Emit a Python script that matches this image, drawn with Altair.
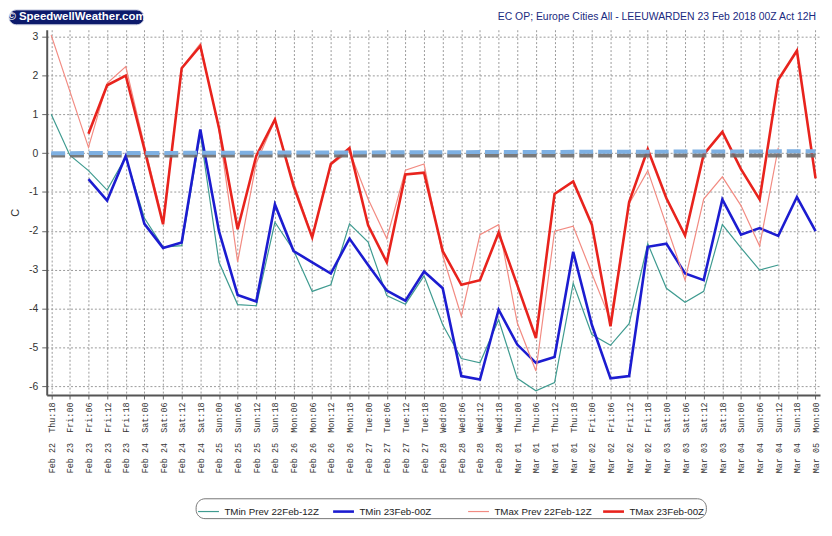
import altair as alt
import pandas as pd

categories = [
    "Feb 22  Thu:18",
    "Feb 23  Fri:00", "Feb 23  Fri:06", "Feb 23  Fri:12", "Feb 23  Fri:18",
    "Feb 24  Sat:00", "Feb 24  Sat:06", "Feb 24  Sat:12", "Feb 24  Sat:18",
    "Feb 25  Sun:00", "Feb 25  Sun:06", "Feb 25  Sun:12", "Feb 25  Sun:18",
    "Feb 26  Mon:00", "Feb 26  Mon:06", "Feb 26  Mon:12", "Feb 26  Mon:18",
    "Feb 27  Tue:00", "Feb 27  Tue:06", "Feb 27  Tue:12", "Feb 27  Tue:18",
    "Feb 28  Wed:00", "Feb 28  Wed:06", "Feb 28  Wed:12", "Feb 28  Wed:18",
    "Mar 01  Thu:00", "Mar 01  Thu:06", "Mar 01  Thu:12", "Mar 01  Thu:18",
    "Mar 02  Fri:00", "Mar 02  Fri:06", "Mar 02  Fri:12", "Mar 02  Fri:18",
    "Mar 03  Sat:00", "Mar 03  Sat:06", "Mar 03  Sat:12", "Mar 03  Sat:18",
    "Mar 04  Sun:00", "Mar 04  Sun:06", "Mar 04  Sun:12", "Mar 04  Sun:18",
    "Mar 05  Mon:00",
]
categories = [c.replace("  ", "\u00a0\u00a0") for c in categories]

tmin_prev = [1.0, -0.05, -0.45, -0.95, -0.1, -1.67, -2.42, -2.38, 0.5, -2.81,
             -3.9, -3.93, -1.78, -2.5, -3.56, -3.39, -1.82, -2.29, -3.67, -3.89,
             -3.16, -4.42, -5.29, -5.4, -4.29, -5.8, -6.12, -5.91, -3.35, -4.67,
             -4.95, -4.39, -2.33, -3.48, -3.84, -3.56, -1.84, -2.44, -3.01, -2.88,
             None, None]
tmin_now = [None, None, -0.67, -1.22, -0.07, -1.82, -2.44, -2.3, 0.61, -2.01,
            -3.65, -3.82, -1.32, -2.52, -2.81, -3.1, -2.2, -2.88, -3.54, -3.8,
            -3.05, -3.48, -5.74, -5.83, -4.03, -4.93, -5.4, -5.25, -2.54, -4.42,
            -5.8, -5.74, -2.41, -2.33, -3.1, -3.27, -1.19, -2.1, -1.93, -2.13,
            -1.13, -2.01]
tmax_prev = [3.04, 1.6, 0.15, 1.8, 2.23, 0.2, -1.75, 2.2, 2.82, 0.6,
             -2.8, -0.25, 0.85, -0.75, -2.15, -0.3, 0.05, -1.18, -2.2, -0.44,
             -0.28, -2.63, -4.2, -2.1, -1.84, -4.37, -5.61, -2.01, -1.88, -3.1,
             -4.3, -1.3, -0.45, -1.86, -3.27, -1.18, -0.61, -1.35, -2.39, 0.14,
             None, None]
tmax_now = [None, None, 0.5, 1.75, 2.0, 0.1, -1.83, 2.19, 2.76, 0.65,
            -1.96, -0.07, 0.87, -0.85, -2.17, -0.28, 0.13, -1.86, -2.81, -0.55,
            -0.5, -2.52, -3.39, -3.27, -2.05, -3.4, -4.76, -1.05, -0.73, -1.84,
            -4.46, -1.26, 0.1, -1.16, -2.12, -0.03, 0.55, -0.41, -1.19, 1.89,
            2.64, -0.65]

series_names = ["TMin Prev 22Feb-12Z", "TMin 23Feb-00Z",
                "TMax Prev 22Feb-12Z", "TMax 23Feb-00Z"]
series_colors = ["#3f9b90", "#1c1cd0", "#f28b82", "#e8231d"]
series_widths = [1.2, 2.6, 1.2, 2.6]

zero_grey = [-0.06, -0.06]
zero_blue = [0.0, 0.05]

title_text = "EC OP; Europe Cities All - LEEUWARDEN 23 Feb 2018 00Z Act 12H"
logo_text = "\u00a9 SpeedwellWeather.com"
y_ticks = [v / 2 for v in range(-12, 7)]

rows = []
for name, vals in zip(series_names, [tmin_prev, tmin_now, tmax_prev, tmax_now]):
    for i, v in enumerate(vals):
        if v is not None:
            rows.append({"cat": categories[i], "idx": i, "series": name, "value": v})
df = pd.DataFrame(rows)

zrows = []
for name, vals in [("grey", zero_grey), ("blue", zero_blue)]:
    zrows.append({"cat": categories[0], "line": name, "value": vals[0]})
    zrows.append({"cat": categories[-1], "line": name, "value": vals[1]})
zdf = pd.DataFrame(zrows)

x_enc = alt.X(
    "cat:O", sort=categories,
    scale=alt.Scale(type="point", padding=0.24),
    axis=alt.Axis(
        title=None, labelAngle=-90, labelAlign="right", labelBaseline="middle",
        labelFont="Liberation Mono", labelFontSize=8.5, labelColor="#333",
        labelPadding=3, tickSize=4, tickColor="#666",
        domainColor="#555", domainWidth=2,
        grid=True, gridColor="#9a9a9a", gridDash=[2, 2], gridWidth=1,
        labelOverlap=False,
    ),
)
y_scale = alt.Scale(domain=[-6.23, 3.18], nice=False, zero=False)
y_enc = alt.Y(
    "value:Q", scale=y_scale,
    axis=alt.Axis(
        title="C", titleFont="Liberation Sans", titleFontSize=11,
        titleFontWeight="normal", titleColor="#333", titleX=-31, titleY=184,
        titleBaseline="middle", titleAlign="center", titleAngle=270,
        values=y_ticks, labelExpr="datum.value + ''",
        labelFont="Liberation Sans", labelFontSize=10.5, labelColor="#333",
        labelPadding=4, tickSize=5, tickColor="#666",
        domainColor="#555", domainWidth=2,
        grid=True, gridColor="#9a9a9a", gridDash=[2, 2], gridWidth=1,
    ),
)

legend_cfg = dict(
    title=None, orient="none", legendX=150, legendY=472,
    direction="horizontal", columns=4, symbolType="stroke",
    symbolSize=441, labelFont="Liberation Sans", labelFontSize=9.8,
    labelColor="#222", strokeColor="#777", cornerRadius=9,
    padding=1, fillColor="white", gridAlign="all", columnPadding=5,
    labelLimit=200, labelOffset=4,
)

lines = alt.Chart(df).mark_line(interpolate="linear").encode(
    x=x_enc,
    y=y_enc,
    color=alt.Color(
        "series:N",
        scale=alt.Scale(domain=series_names, range=series_colors),
        legend=alt.Legend(**legend_cfg),
    ),
    strokeWidth=alt.StrokeWidth(
        "series:N",
        scale=alt.Scale(type="ordinal", domain=series_names, range=series_widths),
        legend=alt.Legend(**legend_cfg),
    ),
    detail="series:N",
    order="idx:Q",
)

zero_grey_line = alt.Chart(zdf[zdf["line"] == "grey"]).mark_line(
    color="#6b6b6b", strokeWidth=4, strokeDash=[14, 5], opacity=0.9
).encode(x=x_enc, y=alt.Y("value:Q", scale=y_scale))
zero_blue_line = alt.Chart(zdf[zdf["line"] == "blue"]).mark_line(
    color="#7eb0e2", strokeWidth=4, strokeDash=[14, 5]
).encode(x=x_enc, y=alt.Y("value:Q", scale=y_scale))

logo_df = pd.DataFrame({"t": [logo_text]})
logo_box = alt.Chart(logo_df).mark_rect(
    cornerRadius=8, fill="#0c1a6b", stroke="#c8cce0", strokeWidth=1
).encode(x=alt.value(-38), x2=alt.value(98), y=alt.value(-20), y2=alt.value(-5))
logo_txt = alt.Chart(logo_df).mark_text(
    color="white", fontWeight="bold", font="Liberation Sans", fontSize=11.5,
    align="center", baseline="middle"
).encode(x=alt.value(30), y=alt.value(-12.5), text="t:N")

title_df = pd.DataFrame({"t": [title_text]})
title_txt = alt.Chart(title_df).mark_text(
    color="#1a2a80", font="Liberation Sans", fontSize=10.5,
    align="right", baseline="middle"
).encode(x=alt.value(775), y=alt.value(-13), text="t:N")

chart = alt.layer(
    lines, zero_grey_line, zero_blue_line, logo_box, logo_txt, title_txt
).properties(
    width=779, height=368,
    autosize=alt.AutoSizeParams(type="none"),
    padding={"left": 39, "top": 20, "right": 4, "bottom": 126},
    background="white",
).configure_view(strokeWidth=0)

chart.save("out.html", embed_options={"renderer": "svg", "actions": False})
